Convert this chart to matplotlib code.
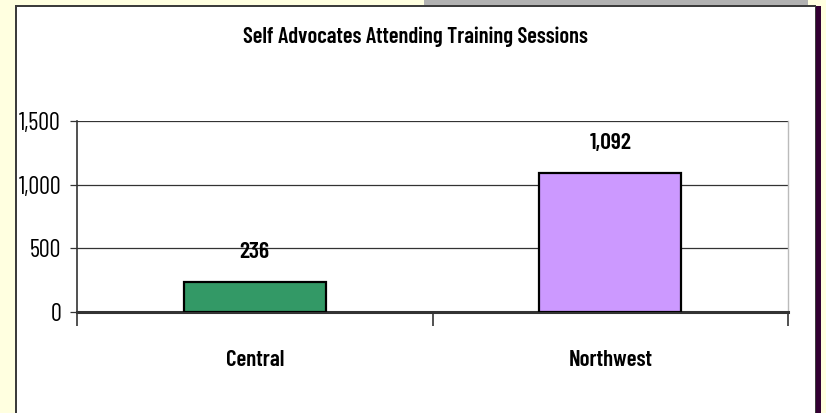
import matplotlib
matplotlib.use("Agg")
import matplotlib.pyplot as plt
from matplotlib.patches import Rectangle

plt.rcParams['font.family'] = ['Barlow Condensed', 'DejaVu Sans']

regions = ["Central", "Northwest"]
attendees = [236, 1092]
bar_colors = ["#339966", "#CC99FF"]
y_ticks = [0, 500, 1000, 1500]
title = "Self Advocates Attending Training Sessions"

W, H = 826, 413
fig = plt.figure(figsize=(W / 100, H / 100), dpi=100)
fig.patch.set_facecolor("#FFFFE0")


def px_rect(x0, y0, x1, y1, color, z=0):
    # rectangle given in pixel coords measured from the top-left corner
    fig.add_artist(Rectangle((x0 / W, 1 - y1 / H), (x1 - x0) / W, (y1 - y0) / H,
                             transform=fig.transFigure, facecolor=color,
                             edgecolor="none", zorder=z))


# slide frame behind the chart
px_rect(424, 0, 808, 6, "#B2B2B2")
px_rect(815, 6, 821, H, "#330033")
px_rect(15, 5, 816, H, "#3C3C3C")
px_rect(17, 7, 815, H, "white")

ax = fig.add_axes([77 / W, 1 - 312 / H, (788 - 77) / W, (312 - 121) / H])
ax.set_facecolor("white")
x = list(range(len(regions)))
bars = ax.bar(x, attendees, width=0.40, color=bar_colors, edgecolor="black",
              linewidth=1.6, zorder=3)

for xi, v in zip(x, attendees):
    ax.annotate(f"{v:,}", (xi, v), xytext=(0, 17), textcoords="offset points",
                ha="center", va="baseline", fontsize=17, fontweight="semibold")

ax.set_xlim(-0.5, len(regions) - 0.5)
ax.set_ylim(0, 1500)
ax.set_yticks(y_ticks)
ax.set_yticklabels([f"{t:,}" for t in y_ticks], fontsize=17.5)
ax.yaxis.grid(True, color="#333333", linewidth=0.9, zorder=0)
ax.tick_params(axis="y", length=5, width=0.9, color="#333333", pad=6.5)

# category labels centred, separator ticks on the category borders
ax.set_xticks(x)
ax.set_xticklabels(regions, fontsize=16.5, fontweight="semibold", va="baseline")
ax.tick_params(axis="x", which="major", length=0, pad=39)
ax.set_xticks([i - 0.5 for i in range(len(regions) + 1)], minor=True)
ax.tick_params(axis="x", which="minor", length=10, width=1.2, color="#333333")

ax.spines["top"].set_visible(False)
ax.spines["right"].set_color("#BBBBBB")
ax.spines["right"].set_linewidth(1.0)
ax.spines["left"].set_color("#333333")
ax.spines["left"].set_linewidth(1.2)
ax.spines["bottom"].set_color("#333333")
ax.spines["bottom"].set_linewidth(2.2)

fig.text(415 / W, 1 - 43 / H, title, ha="center", va="baseline",
         fontsize=16.2, fontweight="semibold")

fig.savefig("out.png", dpi=100, facecolor=fig.get_facecolor())
